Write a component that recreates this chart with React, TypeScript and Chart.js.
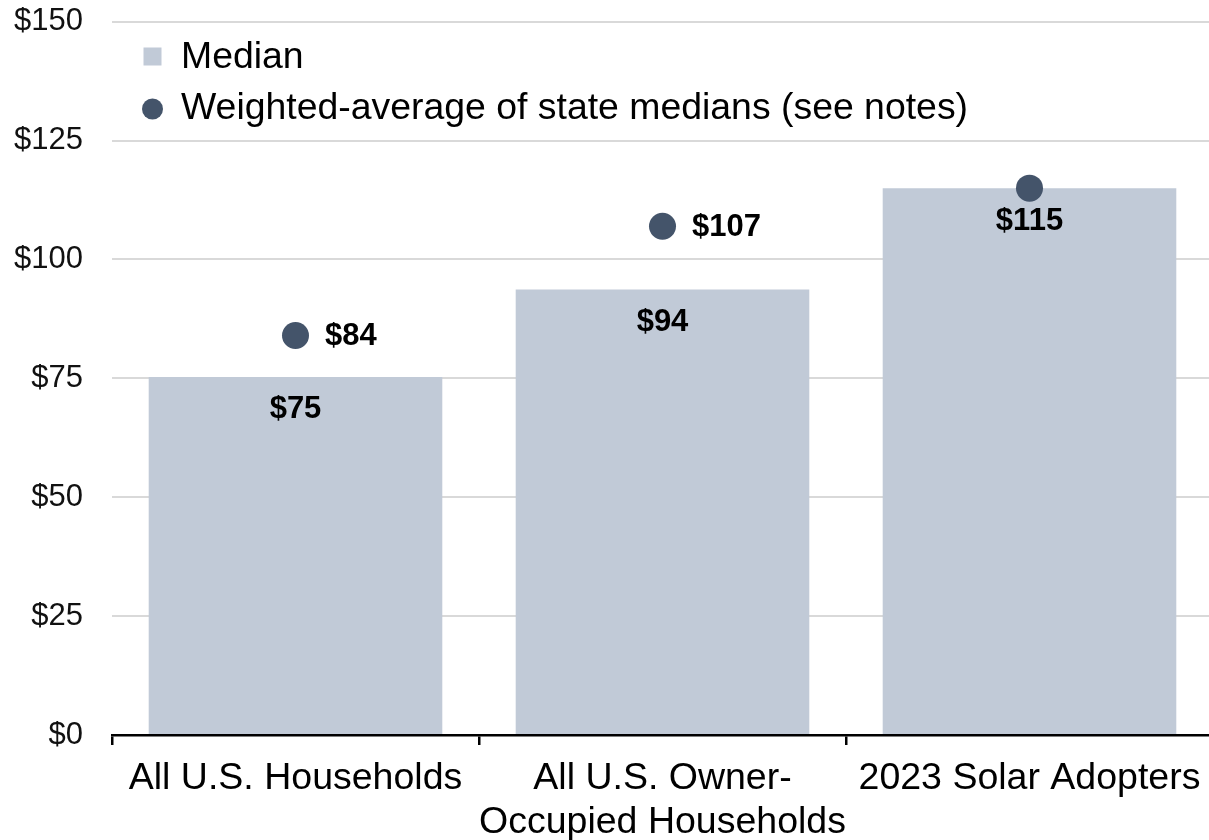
import React, { useEffect, useRef } from "react";
import { Chart, registerables } from "chart.js";

Chart.register(...registerables);

const categories: (string | string[])[] = [
  "All U.S. Households",
  ["All U.S. Owner-", "Occupied Households"],
  "2023 Solar Adopters",
];
const medianValues = [75.3, 93.7, 115];
const weightedValues = [84, 107, 115];
const showWeightedLabel = [true, true, false];
const yTicks = [0, 25, 50, 75, 100, 125, 150];

const FONT = "'Liberation Sans', Arial, Helvetica, sans-serif";
const BAR_COLOR = "#c1cad7";
const POINT_COLOR = "#44546a";

const fmt = (v: number) => "$" + Math.round(v);

const labelPlugin = {
  id: "valueLabels",
  afterDatasetsDraw(chart: any) {
    const ctx = chart.ctx;
    ctx.save();
    ctx.fillStyle = "#000";
    ctx.font = `bold 31px ${FONT}`;
    ctx.textBaseline = "middle";
    const barMeta = chart.getDatasetMeta(0);
    barMeta.data.forEach((el: any, i: number) => {
      ctx.textAlign = "center";
      ctx.fillText(fmt(medianValues[i]), el.x, el.y + 33);
    });
    const ptMeta = chart.getDatasetMeta(1);
    ptMeta.data.forEach((el: any, i: number) => {
      if (!showWeightedLabel[i]) return;
      ctx.textAlign = "left";
      ctx.fillText(fmt(weightedValues[i]), el.x + 29.5, el.y + 1);
    });
    ctx.restore();
  },
};

const legendPlugin = {
  id: "insideLegend",
  afterDraw(chart: any) {
    const ctx = chart.ctx;
    const left = chart.chartArea.left;
    ctx.save();
    ctx.font = `37.4px ${FONT}`;
    ctx.textBaseline = "middle";
    ctx.textAlign = "left";
    const rows = [56.5, 108];
    chart.data.datasets.forEach((ds: any, i: number) => {
      const cy = rows[i];
      const cx = left + 40.5;
      ctx.fillStyle = ds.backgroundColor;
      if (i === 0) {
        ctx.fillRect(cx - 9, cy - 9, 18, 18);
      } else {
        ctx.beginPath();
        ctx.arc(cx, cy + 1, 10.5, 0, Math.PI * 2);
        ctx.fill();
      }
      ctx.fillStyle = "#000";
      ctx.fillText(ds.label, left + 69, cy + 1);
    });
    ctx.restore();
  },
};

export default function App() {
  const canvasRef = useRef<HTMLCanvasElement | null>(null);

  useEffect(() => {
    if (!canvasRef.current) return;
    const chart = new Chart(canvasRef.current, {
      type: "bar",
      data: {
        labels: categories as any,
        datasets: [
          {
            type: "bar",
            label: "Median",
            data: medianValues,
            backgroundColor: BAR_COLOR,
            barPercentage: 0.8,
            categoryPercentage: 1,
            order: 2,
          },
          {
            type: "line",
            label: "Weighted-average of state medians (see notes)",
            data: weightedValues,
            backgroundColor: POINT_COLOR,
            borderColor: POINT_COLOR,
            showLine: false,
            pointRadius: 13.5,
            pointHoverRadius: 13.5,
            pointBorderWidth: 0,
            order: 1,
          } as any,
        ],
      },
      options: {
        animation: false,
        responsive: false,
        maintainAspectRatio: false,
        layout: { autoPadding: false, padding: { top: 21.7, right: 0, left: 0, bottom: 0 } },
        plugins: {
          legend: { display: false },
          tooltip: { enabled: false },
        },
        scales: {
          x: {
            offset: true,
            grid: {
              offset: true,
              drawOnChartArea: false,
              drawTicks: true,
              tickLength: 10,
              color: "#000",
              lineWidth: 2.5,
            },
            border: { display: true, color: "#000", width: 2.5 },
            ticks: {
              color: "#000",
              font: { family: FONT, size: 37.5, lineHeight: 1.19 },
              padding: 11,
              maxRotation: 0,
              autoSkip: false,
            },
            afterFit: (scale: any) => {
              scale.height = 105;
              scale.paddingLeft = 0;
              scale.paddingRight = 0;
            },
          },
          y: {
            min: 0,
            max: 150,
            afterBuildTicks: (scale: any) => {
              scale.ticks = yTicks.map((v) => ({ value: v }));
            },
            grid: {
              drawTicks: false,
              color: "#d9d9d9",
              lineWidth: 2,
            },
            border: { display: false },
            ticks: {
              color: "#111",
              font: { family: FONT, size: 31 },
              padding: 29,
              callback: (v: any) => "$" + v,
            },
            afterFit: (scale: any) => {
              scale.width = 112;
              scale.paddingTop = 0;
              scale.paddingBottom = 0;
            },
          },
        },
      },
      plugins: [labelPlugin, legendPlugin],
    });
    return () => chart.destroy();
  }, []);

  return (
    <div
      style={{
        position: "fixed",
        left: 0,
        top: 0,
        width: 1213,
        height: 840,
        background: "#fff",
      }}
    >
      <canvas ref={canvasRef} width={1213} height={840} style={{ width: 1213, height: 840 }} />
    </div>
  );
}
